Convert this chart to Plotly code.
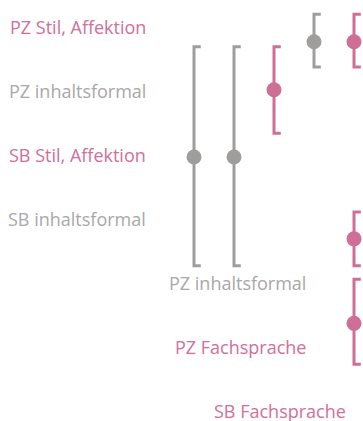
import plotly.graph_objects as go

# rows = label slots (top to bottom), cols = bar columns (left to right)
label_text = ["PZ Stil, Affektion", "PZ inhaltsformal", "SB Stil, Affektion", "SB inhaltsformal",
              "PZ inhaltsformal", "PZ Fachsprache", "SB Fachsprache"]
label_col = [-1, -1, -1, -1, 3, 3, 4]
label_row = [0, 1, 2, 3, 4, 5, 6]
label_group = ["pink", "gray", "pink", "gray", "gray", "pink", "pink"]

bar_col = [0, 1, 2, 3, 4, 4, 4]
bar_mean = [2.03, 2.03, 0.98, 0.23, 0.23, 3.31, 4.63]
bar_lo = [0.31, 0.31, 0.31, -0.20, -0.20, 2.89, 3.94]
bar_hi = [3.73, 3.73, 1.66, 0.625, 0.625, 3.73, 5.27]
bar_group = ["gray", "gray", "pink", "gray", "pink", "pink", "pink"]

COLORS = {"pink": "#cf6e96", "gray": "#a09d9d"}
TEXT_COLORS = {"pink": "#d0709a", "gray": "#a8a8a8"}
TICK = 0.17
FONT = "Open Sans"

fig = go.Figure()

for grp in ["gray", "pink"]:
    xs, ys = [], []
    for c, lo, hi, g in zip(bar_col, bar_lo, bar_hi, bar_group):
        if g != grp:
            continue
        xs += [c + TICK, c, c, c + TICK, None]
        ys += [lo, lo, hi, hi, None]
    fig.add_trace(go.Scatter(x=xs, y=ys, mode="lines", hoverinfo="skip", cliponaxis=False,
                             line=dict(color=COLORS[grp], width=3)))
    fig.add_trace(go.Scatter(
        x=[c for c, g in zip(bar_col, bar_group) if g == grp],
        y=[m for m, g in zip(bar_mean, bar_group) if g == grp],
        mode="markers", cliponaxis=False, marker=dict(color=COLORS[grp], size=15)))

for t, c, r, g in zip(label_text, label_col, label_row, label_group):
    fig.add_annotation(x=c - 0.15, y=r, text=t, showarrow=False, xanchor="right",
                       font=dict(family=FONT, size=18, color=TEXT_COLORS[g]))

fig.update_layout(
    width=363, height=421, margin=dict(l=0, r=0, t=0, b=0),
    plot_bgcolor="white", paper_bgcolor="white", showlegend=False,
    xaxis=dict(range=[-4.85, 4.225], visible=False),
    yaxis=dict(range=[6.156, -0.422], visible=False),
)

fig.write_html("out.html", config={"displayModeBar": False},
               post_script="document.body.style.margin='0';")
